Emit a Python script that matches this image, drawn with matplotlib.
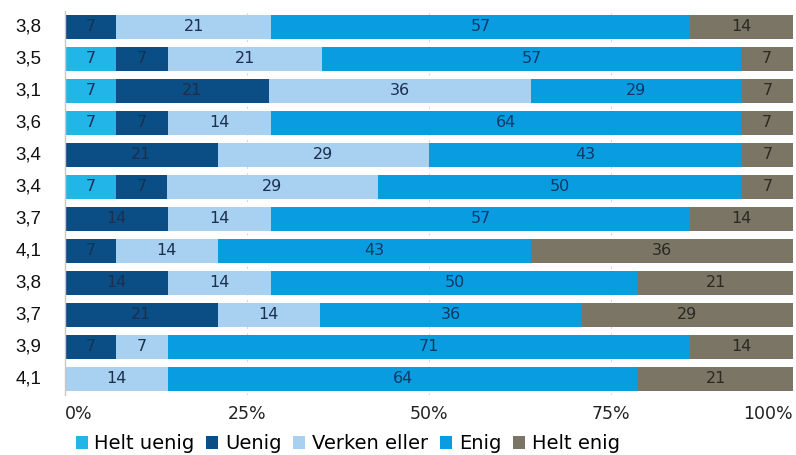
import numpy as np
import matplotlib
matplotlib.use("Agg")
import matplotlib.pyplot as plt
from matplotlib.patches import Patch

# data (top to bottom)
means = ["3,8", "3,5", "3,1", "3,6", "3,4", "3,4", "3,7", "4,1", "3,8", "3,7", "3,9", "4,1"]
helt_uenig = [0, 7, 7, 7, 0, 7, 0, 0, 0, 0, 0, 0]
uenig      = [7, 7, 21, 7, 21, 7, 14, 7, 14, 21, 7, 0]
verken     = [21, 21, 36, 14, 29, 29, 14, 14, 14, 14, 7, 14]
enig       = [57, 57, 29, 64, 43, 50, 57, 43, 50, 36, 71, 64]
helt_enig  = [14, 7, 7, 7, 7, 7, 14, 36, 21, 29, 14, 21]

categories = ["Helt uenig", "Uenig", "Verken eller", "Enig", "Helt enig"]
colors = ["#22B5E8", "#0B4E85", "#A8D0F0", "#0A9CE0", "#7A7565"]
text_colors = ["#1B2F4E", "#1B2F4E", "#1B2F4E", "#0B3A66", "#2A2A22"]
ticks = [0, 25, 50, 75, 100]
tick_labels = ["0%", "25%", "50%", "75%", "100%"]

series = np.array([helt_uenig, uenig, verken, enig, helt_enig], dtype=float)
totals = series.sum(axis=0)
shares = series / totals * 100

fig = plt.figure(figsize=(7.96, 4.55), dpi=100)
ax = fig.add_axes([0.0817, 0.132, 0.9143, 0.844])

y = np.arange(len(means))
left = np.zeros(len(means))
for i, cat in enumerate(categories):
    ax.barh(y, shares[i], left=left, height=0.76, color=colors[i], zorder=2)
    for j in range(len(means)):
        if series[i, j] > 0:
            ax.text(left[j] + shares[i, j] / 2, y[j], f"{int(series[i, j])}",
                    ha="center", va="center", fontsize=11.5, color=text_colors[i],
                    family="DejaVu Sans", zorder=3)
    left += shares[i]

ax.set_xlim(0, 100)
ax.set_ylim(len(means) - 0.5, -0.5)
ax.set_yticks([])
ax.set_xticks([])
for v in [25, 50, 75]:
    ax.axvline(v, color="#d8d8d8", lw=0.8, ls=(0, (2, 4)), zorder=1)
for s in ["top", "right", "bottom"]:
    ax.spines[s].set_visible(False)
ax.spines["left"].set_color("#c8c8c8")
ax.spines["left"].set_linewidth(1.0)

# mean labels on the left
for j, m in enumerate(means):
    ax.text(-3.3, y[j], m, ha="right", va="center", fontsize=13.5,
            family="Liberation Sans", color="#111111", clip_on=False)

# percent tick labels
for t, lab in zip(ticks, tick_labels):
    ha = "left" if t == 0 else ("right" if t == 100 else "center")
    ax.text(t, len(means) - 0.5 + 0.58, lab, ha=ha, va="center", fontsize=12.5,
            family="DejaVu Sans", color="#222222", clip_on=False)

handles = [Patch(facecolor=c, edgecolor="none", label=l) for c, l in zip(colors, categories)]
fig.legend(handles=handles, loc="lower left", bbox_to_anchor=(0.073, -0.035), ncol=5,
           frameon=False, handlelength=0.62, handleheight=0.62, handletextpad=0.35,
           columnspacing=0.6, prop={"family": "DejaVu Sans", "size": 14})

fig.savefig("out.png", dpi=100)
